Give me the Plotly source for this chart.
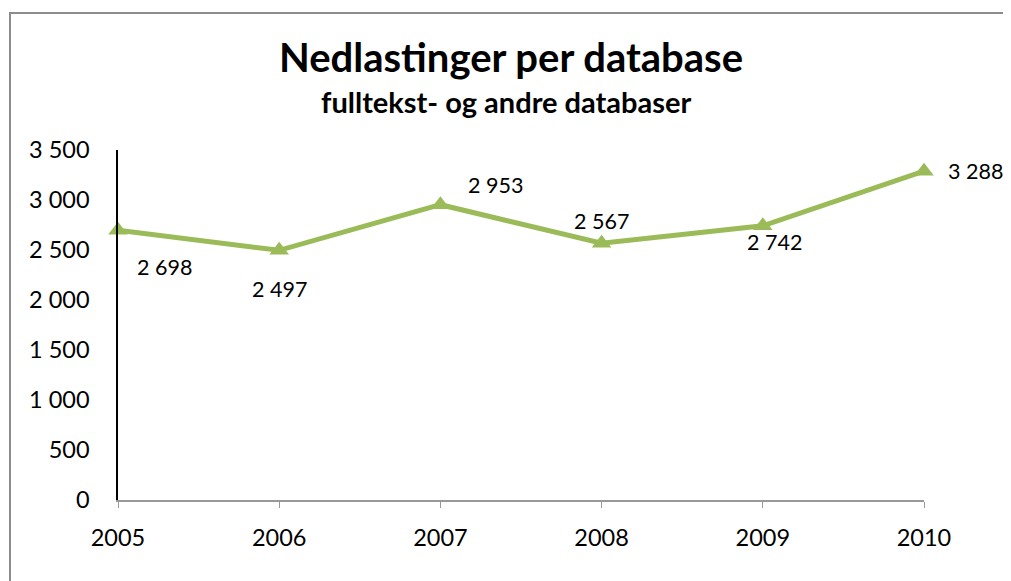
import plotly.graph_objects as go

years = [2005, 2006, 2007, 2008, 2009, 2010]
downloads = [2698, 2497, 2953, 2567, 2742, 3288]
y_ticks = [0, 500, 1000, 1500, 2000, 2500, 3000, 3500]

title = "Nedlastinger per database"
subtitle = "fulltekst- og andre databaser"

# label offsets (pixels) per point
label_dx = [46, 0, 55, 0, 12, 51]
label_dy = [-37, -39, 20, 22, -16, 0]

def fmt(v):
    return f"{v:,}".replace(",", " ")

FONT = "Lato"
GREEN = "#9BBB59"

fig = go.Figure()
fig.add_trace(go.Scatter(
    x=years, y=downloads, mode="lines+markers",
    line=dict(color=GREEN, width=5),
    marker=dict(symbol="triangle-up", size=17, color=GREEN),
    cliponaxis=False, hoverinfo="x+y", showlegend=False,
))

for x, y, dx, dy in zip(years, downloads, label_dx, label_dy):
    fig.add_annotation(x=x, y=y, text=fmt(y), showarrow=False,
                       xshift=dx, yshift=dy,
                       font=dict(family=FONT, size=21.5, color="black"))

fig.add_annotation(xref="paper", yref="paper", x=0.4876, y=(492 - 49) / 350,
                   text=f"<b>{title}</b>", showarrow=False,
                   xanchor="center", yanchor="middle",
                   font=dict(family=FONT, size=40, color="black"))
fig.add_annotation(xref="paper", yref="paper", x=0.482, y=(492 - 93) / 350,
                   text=f"<b>{subtitle}</b>", showarrow=False,
                   xanchor="center", yanchor="middle",
                   font=dict(family=FONT, size=29, color="black"))

fig.update_layout(
    width=1011, height=581,
    margin=dict(l=110, r=95, t=142, b=89),
    paper_bgcolor="white", plot_bgcolor="white",
    xaxis=dict(range=[2005, 2010], tickvals=years, ticktext=[str(y) for y in years],
               showgrid=False, zeroline=False, showline=True, linecolor="#999999", linewidth=1.5,
               ticks="outside", ticklen=6, tickcolor="#999999", ticklabelstandoff=10,
               tickfont=dict(family=FONT, size=23.5, color="black")),
    yaxis=dict(range=[0, 3500], tickvals=y_ticks, ticktext=[fmt(v) for v in y_ticks],
               showgrid=False, zeroline=False, showline=True, linecolor="black", linewidth=1.5,
               ticks="", ticklabelstandoff=22,
               tickfont=dict(family=FONT, size=23.5, color="black")),
    shapes=[dict(type="rect", xref="paper", yref="paper",
                 x0=(10 - 118) / 806, x1=(1005 - 118) / 806,
                 y0=-0.5, y1=(500 - 13) / 350,
                 line=dict(color="#8c8c8c", width=2), layer="below")],
)

fig.write_html("out.html")
